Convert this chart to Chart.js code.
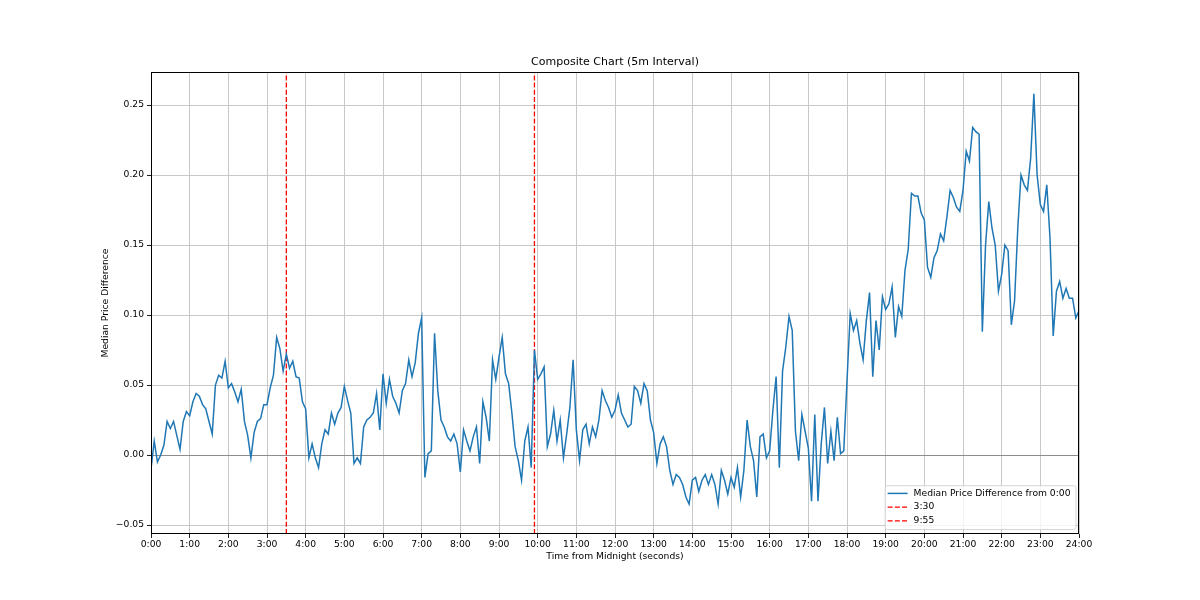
<!DOCTYPE html>
<html>
<head>
<meta charset="utf-8">
<title>Composite Chart (5m Interval)</title>
<script src="https://cdn.jsdelivr.net/npm/chart.js@4.4.1/dist/chart.umd.min.js"></script>
<style>
  html, body { margin: 0; padding: 0; background: #fff; }
  #wrap { width: 1200px; height: 600px; }
</style>
</head>
<body>
<div id="wrap"><canvas id="chart"></canvas></div>
<script>
// sampling of the series: one value every 5 minutes, 0:00 .. 24:00
const INTERVAL_SEC = 300;

// median price difference from 0:00 (12 values per hour)
const medianDiff = [
  -0.010, 0.010, -0.005, 0.000, 0.007, 0.024, 0.019, 0.024, 0.014, 0.004, 0.024, 0.031,   // 0:00
  0.028, 0.038, 0.044, 0.042, 0.036, 0.033, 0.024, 0.015, 0.050, 0.057, 0.055, 0.067,     // 1:00
  0.048, 0.051, 0.045, 0.038, 0.047, 0.024, 0.014, -0.002, 0.016, 0.024, 0.026, 0.036,    // 2:00
  0.036, 0.048, 0.057, 0.084, 0.076, 0.060, 0.072, 0.062, 0.067, 0.056, 0.055, 0.038,     // 3:00
  0.033, -0.002, 0.008, -0.002, -0.009, 0.008, 0.018, 0.015, 0.030, 0.022, 0.030, 0.034,  // 4:00
  0.049, 0.039, 0.030, -0.006, -0.002, -0.006, 0.020, 0.025, 0.027, 0.030, 0.044, 0.018,  // 5:00
  0.058, 0.037, 0.054, 0.042, 0.037, 0.030, 0.046, 0.051, 0.068, 0.056, 0.066, 0.087,     // 6:00
  0.098, -0.016, 0.001, 0.003, 0.087, 0.046, 0.025, 0.020, 0.013, 0.010, 0.015, 0.008,    // 7:00
  -0.012, 0.018, 0.010, 0.003, 0.013, 0.020, -0.006, 0.038, 0.027, 0.010, 0.068, 0.054,   // 8:00
  0.070, 0.084, 0.058, 0.051, 0.030, 0.006, -0.004, -0.018, 0.010, 0.020, -0.009, 0.075,  // 9:00
  0.054, 0.058, 0.063, 0.006, 0.015, 0.032, 0.010, 0.025, -0.002, 0.015, 0.034, 0.068,   // 10:00
  0.018, -0.004, 0.018, 0.022, 0.008, 0.020, 0.013, 0.025, 0.046, 0.039, 0.034, 0.027,   // 11:00
  0.032, 0.043, 0.030, 0.025, 0.020, 0.022, 0.049, 0.046, 0.037, 0.051, 0.046, 0.025,     // 12:00
  0.016, -0.006, 0.008, 0.013, 0.006, -0.011, -0.021, -0.014, -0.016, -0.021, -0.030, -0.035,   // 13:00
  -0.018, -0.016, -0.026, -0.018, -0.014, -0.021, -0.014, -0.021, -0.035, -0.011, -0.018, -0.028, // 14:00
  -0.016, -0.023, -0.009, -0.030, -0.011, 0.025, 0.006, -0.004, -0.030, 0.013, 0.015, -0.002,   // 15:00
  0.003, 0.032, 0.056, -0.009, 0.060, 0.077, 0.099, 0.089, 0.017, -0.004, 0.029, 0.017,  // 16:00
  0.005, -0.033, 0.029, -0.033, 0.008, 0.034, -0.006, 0.017, -0.004, 0.027, 0.001, 0.003, // 17:00
  0.053, 0.101, 0.089, 0.096, 0.080, 0.068, 0.096, 0.116, 0.056, 0.096, 0.075, 0.113,    // 18:00
  0.104, 0.108, 0.120, 0.084, 0.106, 0.099, 0.132, 0.147, 0.187, 0.185, 0.185, 0.173,    // 19:00
  0.168, 0.134, 0.127, 0.141, 0.146, 0.158, 0.153, 0.170, 0.189, 0.184, 0.177, 0.174,    // 20:00
  0.189, 0.217, 0.210, 0.234, 0.231, 0.229, 0.088, 0.150, 0.181, 0.162, 0.150, 0.117,    // 21:00
  0.129, 0.150, 0.146, 0.093, 0.110, 0.162, 0.200, 0.193, 0.189, 0.212, 0.258, 0.200,    // 22:00
  0.179, 0.174, 0.193, 0.155, 0.085, 0.117, 0.124, 0.112, 0.119, 0.112, 0.112, 0.098,    // 23:00
  0.103                                                                                  // 24:00
];

// marker times (seconds from midnight) and their labels
const markerTimes = [12600, 35700];
const markerLabels = ['3:30', '9:55'];

// axis limits and ticks
const X_MIN = 0, X_MAX = 86400, X_STEP = 3600;
const Y_MIN = -0.0564, Y_MAX = 0.2736, Y_STEP = 0.05;

const FONT = "'DejaVu Sans', sans-serif";
const SMALL = 9.2;
const BLUE = '#1f77b4';

const seriesPoints = medianDiff.map((v, i) => ({ x: i * INTERVAL_SEC, y: v }));

const datasets = [{
  label: 'Median Price Difference from 0:00',
  data: seriesPoints,
  borderColor: BLUE,
  borderWidth: 1.5,
  pointRadius: 0,
  tension: 0,
  fill: false
}];
markerTimes.forEach((t, i) => {
  datasets.push({
    label: markerLabels[i],
    data: [{ x: t, y: Y_MIN }, { x: t, y: Y_MAX }],
    borderColor: '#ff0000',
    borderWidth: 1.3,
    borderDash: [5, 2.2],
    pointRadius: 0,
    fill: false
  });
});

function fmtTime(sec) {
  const h = Math.floor(sec / 3600);
  const m = Math.round((sec % 3600) / 60);
  return h + ':' + String(m).padStart(2, '0');
}

// matplotlib style box round the plot
const spines = {
  id: 'spines',
  afterDatasetsDraw(chart) {
    const { ctx, chartArea: a } = chart;
    ctx.save();
    ctx.strokeStyle = '#000';
    ctx.lineWidth = 1;
    ctx.strokeRect(Math.round(a.left) + 0.5, Math.round(a.top) + 0.5,
      Math.round(a.right - a.left) - 1, Math.round(a.bottom - a.top) - 1);
    ctx.restore();
  }
};

// legend drawn inside the plot, lower right
const legendBox = {
  id: 'legendBox',
  afterDraw(chart) {
    const { ctx, chartArea: a } = chart;
    const items = chart.data.datasets;
    ctx.save();
    ctx.font = SMALL + 'px ' + FONT;
    const textW = Math.max(...items.map(d => ctx.measureText(d.label).width));
    const rowH = 13.7;
    const w = 29 + textW + 5;
    const h = 16.4 + rowH * (items.length - 1);
    const x = a.right - 3.5 - w;
    const y = a.bottom - 5 - h;
    ctx.beginPath();
    ctx.roundRect(x + 0.5, y + 0.5, w, h, 2.5);
    ctx.fillStyle = 'rgba(255,255,255,0.8)';
    ctx.fill();
    ctx.strokeStyle = 'rgba(204,204,204,0.8)';
    ctx.lineWidth = 1;
    ctx.stroke();
    items.forEach((d, i) => {
      const cy = y + 8.2 + i * rowH;
      ctx.beginPath();
      ctx.setLineDash(d.borderDash || []);
      ctx.strokeStyle = d.borderColor;
      ctx.lineWidth = d.borderWidth;
      ctx.moveTo(x + 3, cy);
      ctx.lineTo(x + 23, cy);
      ctx.stroke();
      ctx.setLineDash([]);
      ctx.fillStyle = '#000';
      ctx.textBaseline = 'middle';
      ctx.textAlign = 'left';
      ctx.fillText(d.label, x + 29, cy);
    });
    ctx.restore();
  }
};

new Chart(document.getElementById('chart'), {
  type: 'line',
  data: { datasets: datasets },
  plugins: [spines, legendBox],
  options: {
    responsive: true,
    maintainAspectRatio: false,
    animation: false,
    layout: { padding: { left: 90, right: 121, top: 50, bottom: 30 } },
    plugins: {
      legend: { display: false },
      tooltip: { enabled: false },
      title: {
        display: true,
        text: 'Composite Chart (5m Interval)',
        fullSize: false,
        color: '#000',
        font: { family: FONT, size: 11, weight: 'normal' },
        padding: { top: 5.5, bottom: 3.3 }
      }
    },
    scales: {
      x: {
        type: 'linear',
        min: X_MIN,
        max: X_MAX,
        afterFit: s => { s.height = 36; },
        border: { display: false },
        grid: { color: '#c8c8c8', lineWidth: 1, tickLength: 4, tickColor: '#222' },
        ticks: {
          stepSize: X_STEP,
          autoSkip: false,
          maxRotation: 0,
          padding: 1.5,
          color: '#000',
          font: { family: FONT, size: SMALL },
          callback: v => fmtTime(v)
        },
        title: {
          display: true,
          text: 'Time from Midnight (seconds)',
          color: '#000',
          font: { family: FONT, size: SMALL },
          padding: { top: 0, bottom: 7.5 }
        }
      },
      y: {
        min: Y_MIN,
        max: Y_MAX,
        afterFit: s => { s.width = 61; },
        border: { display: false },
        grid: {
          color: c => (c.tick && Math.abs(c.tick.value) < 1e-9) ? '#8c8c8c' : '#c8c8c8',
          lineWidth: 1,
          tickLength: 4,
          tickColor: '#222'
        },
        ticks: {
          stepSize: Y_STEP,
          includeBounds: false,
          padding: 3,
          color: '#000',
          font: { family: FONT, size: SMALL },
          callback: v => {
            const s = Math.abs(v).toFixed(2);
            return v < -1e-9 ? '\u2212' + s : s;
          }
        },
        title: {
          display: true,
          text: 'Median Price Difference',
          color: '#000',
          font: { family: FONT, size: SMALL },
          padding: { top: 10.5, bottom: 0 }
        }
      }
    }
  }
});
</script>
</body>
</html>
